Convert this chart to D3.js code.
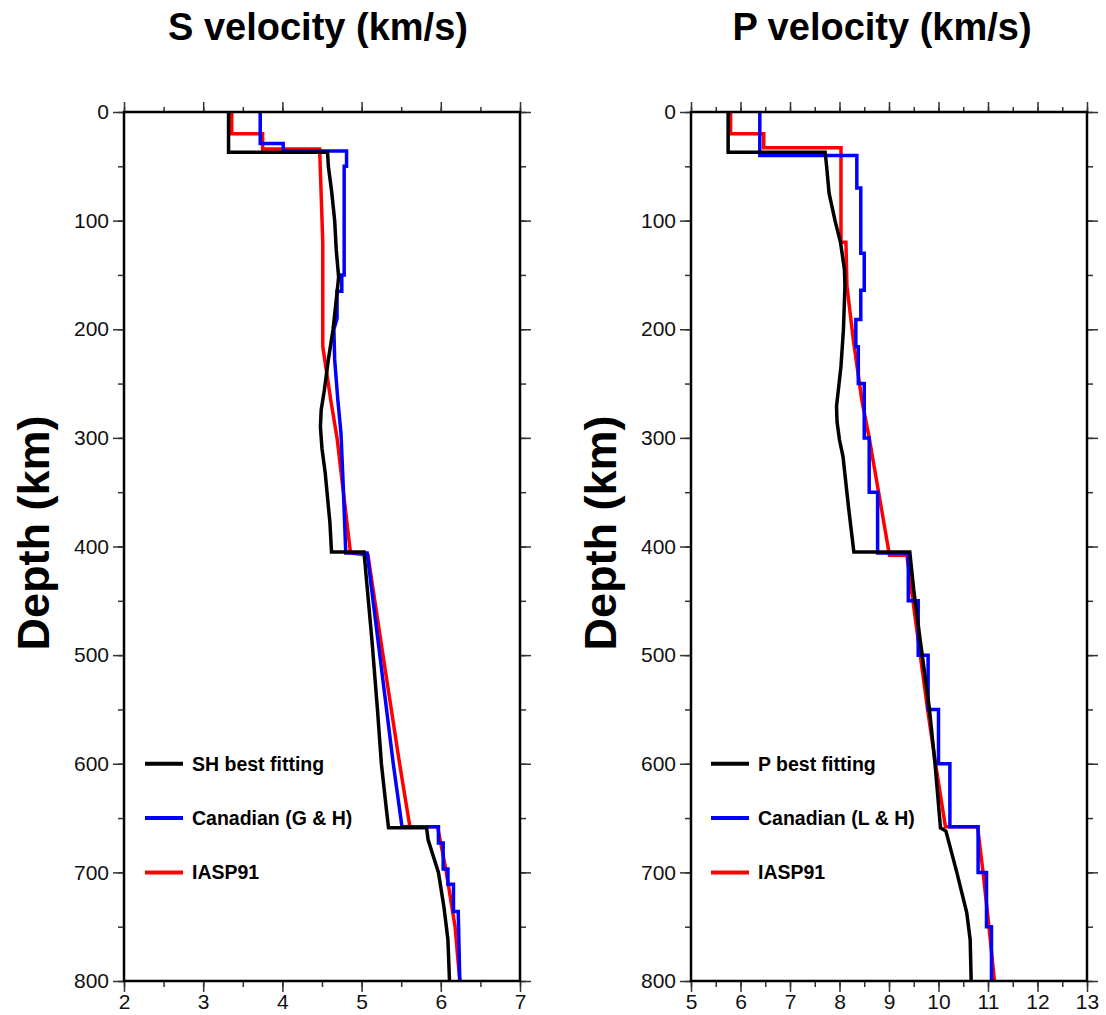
<!DOCTYPE html>
<html>
<head>
<meta charset="utf-8">
<script src="https://cdn.jsdelivr.net/npm/d3@7"></script>
<style>
  body { margin: 0; background: #fff; }
  svg { display: block; font-family: "Liberation Sans", Arial, sans-serif; }
</style>
</head>
<body>
<div id="chart"></div>
<script>
// ---- data (depth km, velocity km/s) ----
const depthTicks = [0, 100, 200, 300, 400, 500, 600, 700, 800];
const sTicks = [2, 3, 4, 5, 6, 7];
const pTicks = [5, 6, 7, 8, 9, 10, 11, 12, 13];

// S velocity
const sBestDepth = [0, 37, 37, 50, 72, 100, 127, 152, 173, 200, 228, 256, 274, 290, 310, 332, 378, 405, 405, 486, 550, 600, 640, 659, 659, 670, 700, 732, 762, 800];
const sBestVel   = [3.32, 3.32, 4.57, 4.58, 4.62, 4.66, 4.68, 4.71, 4.68, 4.64, 4.58, 4.53, 4.49, 4.48, 4.50, 4.54, 4.60, 4.62, 5.03, 5.13, 5.20, 5.25, 5.31, 5.34, 5.82, 5.84, 5.97, 6.04, 6.09, 6.11];
const sCanDepth  = [0, 29, 29, 36, 36, 50, 50, 150, 150, 165, 165, 190, 200, 228, 265, 296, 348, 406, 406, 500, 600, 658, 658, 673, 673, 697, 697, 711, 711, 736, 736, 800];
const sCanVel    = [3.72, 3.72, 4.01, 4.01, 4.81, 4.81, 4.78, 4.78, 4.75, 4.75, 4.69, 4.69, 4.65, 4.66, 4.70, 4.74, 4.77, 4.80, 5.07, 5.23, 5.40, 5.51, 5.97, 5.97, 6.03, 6.03, 6.09, 6.09, 6.16, 6.16, 6.22, 6.24];
const sIaspDepth = [0, 20, 20, 34, 34, 120, 216, 265, 300, 350, 406, 408, 500, 600, 658, 658, 700, 750, 800];
const sIaspVel   = [3.36, 3.36, 3.75, 3.75, 4.47, 4.51, 4.51, 4.61, 4.69, 4.77, 4.86, 5.08, 5.27, 5.48, 5.61, 5.96, 6.07, 6.18, 6.24];

// P velocity
const pBestDepth = [0, 37, 37, 50, 75, 100, 120, 145, 160, 200, 234, 271, 285, 302, 317, 363, 405, 405, 440, 486, 547, 600, 659, 662, 700, 737, 762, 800];
const pBestVel   = [5.75, 5.75, 7.71, 7.74, 7.79, 7.91, 8.02, 8.10, 8.11, 8.08, 8.03, 7.94, 7.95, 8.00, 8.07, 8.18, 8.29, 9.42, 9.50, 9.63, 9.81, 9.93, 10.04, 10.15, 10.37, 10.57, 10.64, 10.66];
// Canadian (L & H) is layered: top of each layer and its velocity
const pCanTop    = [0, 40, 70, 130, 164, 191, 216, 250, 300, 350, 406, 450, 500, 550, 600, 658, 700, 750];
const pCanVel    = [6.39, 8.35, 8.43, 8.50, 8.43, 8.33, 8.38, 8.50, 8.60, 8.77, 9.39, 9.59, 9.79, 10.0, 10.23, 10.80, 10.97, 11.07];
const pIaspDepth = [0, 20, 20, 33, 33, 120, 120, 160, 210, 265, 300, 408, 408, 486, 550, 600, 658, 658, 700, 750, 800];
const pIaspVel   = [5.80, 5.80, 6.47, 6.47, 8.03, 8.03, 8.13, 8.15, 8.28, 8.45, 8.60, 9.01, 9.36, 9.59, 9.78, 9.94, 10.14, 10.79, 10.90, 11.02, 11.13];

const colors = { best: "#000000", can: "#0000ff", iasp: "#ff0000" };

function zip(ds, vs) { return ds.map((d, i) => [d, vs[i]]); }
function steps(tops, vels, bottom) {
  const pts = [];
  tops.forEach((t, i) => {
    const b = i < tops.length - 1 ? tops[i + 1] : bottom;
    pts.push([t, vels[i]], [b, vels[i]]);
  });
  return pts;
}

const width = 1106, height = 1015;
const plotTop = 112, plotBottom = 981;

const svg = d3.select("#chart").append("svg")
  .attr("width", width).attr("height", height);

function panel(opt) {
  const x = d3.scaleLinear().domain(opt.xDomain).range([opt.left, opt.right]);
  const y = d3.scaleLinear().domain([0, 800]).range([plotTop, plotBottom]);
  const g = svg.append("g");

  const minorX = d3.range(opt.xDomain[0], opt.xDomain[1] + 0.001, 0.5);
  const minorY = d3.range(0, 801, 50);

  // ticks: major + minor on all four sides, outward
  const addAxis = (axisFn, scale, pos, ticks, size, labels, pad) => {
    const a = axisFn(scale).tickValues(ticks).tickSize(size).tickPadding(pad || 4);
    a.tickFormat(labels ? d3.format("d") : "");
    const ag = g.append("g").attr("transform", pos).call(a);
    ag.select(".domain").remove();
    ag.selectAll("line").attr("stroke", "#333").attr("stroke-width", 1.5);
    ag.selectAll("text").attr("font-size", 21).attr("fill", "#111")
      .attr("font-family", "'Liberation Sans', Arial, sans-serif");
    return ag;
  };
  addAxis(d3.axisTop, x, `translate(0,${plotTop})`, minorX, 5, false);
  addAxis(d3.axisTop, x, `translate(0,${plotTop})`, opt.ticks, 10, false);
  addAxis(d3.axisBottom, x, `translate(0,${plotBottom})`, minorX, 6, false);
  addAxis(d3.axisBottom, x, `translate(0,${plotBottom})`, opt.ticks, 11, true, 2);
  addAxis(d3.axisLeft, y, `translate(${opt.left},0)`, minorY, 6, false);
  addAxis(d3.axisLeft, y, `translate(${opt.left},0)`, depthTicks, 11, true);
  addAxis(d3.axisRight, y, `translate(${opt.right},0)`, minorY, 6, false);
  addAxis(d3.axisRight, y, `translate(${opt.right},0)`, depthTicks, 11, false);

  const line = d3.line().x(d => x(d[1])).y(d => y(d[0]));
  const clip = "clip" + opt.left;
  svg.append("clipPath").attr("id", clip).append("rect")
    .attr("x", opt.left).attr("y", plotTop - 2)
    .attr("width", opt.right - opt.left).attr("height", plotBottom - plotTop + 4);

  const curves = g.append("g").attr("clip-path", `url(#${clip})`);
  opt.series.forEach(s => {
    curves.append("path").datum(s.pts)
      .attr("fill", "none").attr("stroke", s.color)
      .attr("stroke-width", 3.5).attr("stroke-linejoin", "miter")
      .attr("d", line);
  });

  // frame
  g.append("rect")
    .attr("x", opt.left).attr("y", plotTop)
    .attr("width", opt.right - opt.left).attr("height", plotBottom - plotTop)
    .attr("fill", "none").attr("stroke", "#000").attr("stroke-width", 2.5);

  // legend
  const legend = g.append("g");
  opt.legend.forEach((l, i) => {
    const yy = y(opt.legendDepths[i]);
    legend.append("line")
      .attr("x1", opt.left + opt.legX).attr("x2", opt.left + opt.legX + 38)
      .attr("y1", yy).attr("y2", yy)
      .attr("stroke", l.color).attr("stroke-width", 4);
    legend.append("text")
      .attr("x", opt.left + opt.legX + 47).attr("y", yy + 7)
      .attr("font-size", 19.5).attr("font-weight", "bold")
      .text(l.label);
  });

  // titles
  svg.append("text")
    .attr("x", opt.titleX).attr("y", 40)
    .attr("text-anchor", "middle").attr("font-size", 38).attr("font-weight", "bold")
    .text(opt.title);
  svg.append("text")
    .attr("transform", `translate(${opt.left - 75},${533}) rotate(-90)`)
    .attr("text-anchor", "middle").attr("font-size", 45).attr("font-weight", "bold")
    .text("Depth (km)");
}

panel({
  left: 124, right: 520, xDomain: [2, 7], ticks: sTicks,
  title: "S velocity (km/s)", titleX: 318, legX: 21,
  legendDepths: [600, 650, 700],
  series: [
    { pts: zip(sIaspDepth, sIaspVel), color: colors.iasp },
    { pts: zip(sCanDepth, sCanVel), color: colors.can },
    { pts: zip(sBestDepth, sBestVel), color: colors.best }
  ],
  legend: [
    { label: "SH best fitting", color: colors.best },
    { label: "Canadian (G & H)", color: colors.can },
    { label: "IASP91", color: colors.iasp }
  ]
});

panel({
  left: 691, right: 1087, xDomain: [5, 13], ticks: pTicks,
  title: "P velocity (km/s)", titleX: 882, legX: 20,
  legendDepths: [600, 650, 700],
  series: [
    { pts: zip(pIaspDepth, pIaspVel), color: colors.iasp },
    { pts: steps(pCanTop, pCanVel, 800), color: colors.can },
    { pts: zip(pBestDepth, pBestVel), color: colors.best }
  ],
  legend: [
    { label: "P best fitting", color: colors.best },
    { label: "Canadian (L & H)", color: colors.can },
    { label: "IASP91", color: colors.iasp }
  ]
});
</script>
</body>
</html>
